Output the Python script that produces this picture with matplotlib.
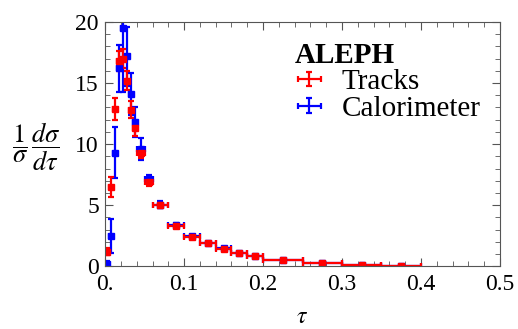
import numpy as np
import matplotlib
matplotlib.use("Agg")
import matplotlib.pyplot as plt
from matplotlib.ticker import MultipleLocator
from matplotlib.container import ErrorbarContainer
from matplotlib.legend_handler import HandlerErrorbar

plt.rcParams['font.family'] = ['Liberation Serif', 'DejaVu Serif']
plt.rcParams['mathtext.fontset'] = 'stix'

# bin edges in tau
edges = np.array([0, 0.005, 0.01, 0.015, 0.02, 0.025, 0.03, 0.035, 0.04, 0.05, 0.06,
                  0.08, 0.10, 0.12, 0.14, 0.16, 0.18, 0.20, 0.25, 0.30, 0.35, 0.40])

tracks = [1.2, 6.5, 12.9, 16.8, 17.0, 15.2, 12.8, 11.3, 9.3, 6.9, 5.0,
          3.3, 2.4, 1.9, 1.4, 1.05, 0.82, 0.5, 0.27, 0.12, 0.05]
tracks_err = [0.3, 0.8, 0.9, 0.8, 0.8, 0.8, 0.7, 0.6, 0.4, 0.3, 0.2,
              0.15, 0.12, 0.1, 0.08, 0.07, 0.06, 0.05, 0.04, 0.03, 0.02]
calo = [0.15, 2.5, 9.3, 16.2, 19.5, 17.2, 14.1, 11.8, 9.6, 7.1, 5.05,
        3.35, 2.45, 1.9, 1.45, 1.05, 0.82, 0.5, 0.27, 0.12, 0.05]
calo_err = [0.3, 1.4, 2.1, 1.9, 5.2, 2.4, 1.7, 1.2, 0.9, 0.4, 0.25,
            0.15, 0.12, 0.1, 0.08, 0.07, 0.06, 0.05, 0.04, 0.03, 0.02]

xtick_vals = [0, 0.1, 0.2, 0.3, 0.4, 0.5]
xtick_labels = ['0.', '0.1', '0.2', '0.3', '0.4', '0.5']
ytick_vals = [0, 5, 10, 15, 20]

x = 0.5 * (edges[1:] + edges[:-1])
xe = 0.5 * (edges[1:] - edges[:-1])

fig = plt.figure(figsize=(5.18, 3.29), dpi=100)
ax = fig.add_axes([0.203, 0.191, 0.762, 0.742])

style = dict(elinewidth=1.6, capsize=2.5, capthick=1.6)
ax.errorbar(x, calo, yerr=calo_err, xerr=xe, fmt='s', color='blue', ms=5, **style)
ax.errorbar(x, tracks, yerr=tracks_err, xerr=xe, fmt='s', color='red', ms=5, **style)

# legend proxies: bare error crosses, no marker
h_t = ax.errorbar([np.nan], [np.nan], xerr=1, yerr=1, fmt='none', color='red', **style)
h_c = ax.errorbar([np.nan], [np.nan], xerr=1, yerr=1, fmt='none', color='blue', **style)

ax.set_xlim(0, 0.5)
ax.set_ylim(0, 20)
ax.set_xticks(xtick_vals)
ax.set_xticklabels(xtick_labels)
ax.set_yticks(ytick_vals)
ax.xaxis.set_minor_locator(MultipleLocator(0.02))
ax.yaxis.set_minor_locator(MultipleLocator(1))
ax.tick_params(which='both', direction='in', top=True, right=True,
               color='#555555', labelsize=17)
ax.tick_params(which='major', length=6, width=0.8)
ax.tick_params(which='minor', length=3.5, width=0.6)
ax.tick_params(axis='x', pad=5.5)
ax.tick_params(axis='y', pad=4.5)
for s in ax.spines.values():
    s.set_color('#555555')
    s.set_linewidth(0.8)

ax.set_xlabel(r'$\tau$', fontsize=17, labelpad=9)
fig.text(0.07, 0.553, r'$\dfrac{1}{\sigma}\,\dfrac{d\sigma}{d\tau}$',
         fontsize=19, ha='center', va='center')

leg = ax.legend([h_t, h_c], ['Tracks', 'Calorimeter'], loc='upper right',
                frameon=False, title='ALEPH', fontsize=21, alignment='left',
                handlelength=1.0, handletextpad=0.6, labelspacing=0.0,
                borderaxespad=0.2, bbox_to_anchor=(0.995, 0.99),
                handler_map={ErrorbarContainer: HandlerErrorbar(xerr_size=0.4, yerr_size=0.25)})
leg.get_title().set_fontsize(21)
leg.get_title().set_fontweight('bold')

fig.savefig('out.png', dpi=100)
